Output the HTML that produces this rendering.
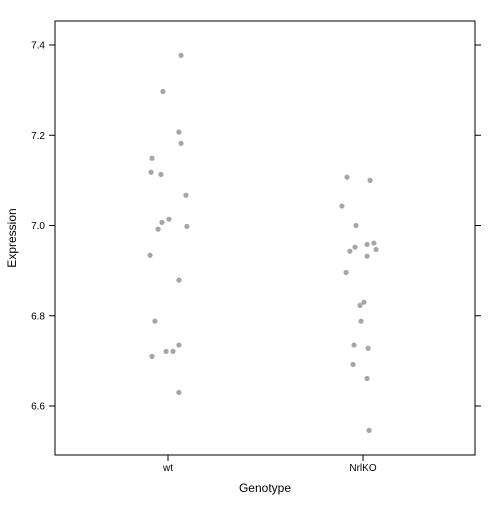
<!DOCTYPE html>
<html><head><meta charset="utf-8"><style>
body{margin:0;background:#fff}
svg text{font-family:"Liberation Sans",sans-serif}
</style></head><body>
<svg id="c" width="504" height="504">
<rect x="0" y="0" width="504" height="504" fill="#fff"/>
</svg>
<script>
const categories=["wt","NrlKO"];
const wtValues=[7.377,7.297,7.207,7.182,7.149,7.118,7.113,7.067,7.014,7.007,6.992,6.998,6.934,6.879,6.788,6.735,6.721,6.721,6.710,6.630];
const wtJitter=[0.067,-0.026,0.056,0.067,-0.082,-0.087,-0.036,0.092,0.005,-0.031,-0.051,0.097,-0.092,0.056,-0.067,0.056,-0.010,0.026,-0.082,0.056];
const koValues=[7.107,7.100,7.043,7.000,6.958,6.961,6.952,6.943,6.947,6.932,6.896,6.830,6.823,6.788,6.735,6.728,6.692,6.661,6.546];
const koJitter=[-0.082,0.036,-0.108,-0.036,0.021,0.056,-0.041,-0.067,0.067,0.021,-0.087,0.005,-0.015,-0.010,-0.046,0.026,-0.051,0.021,0.031];
const yTicks=[6.6,6.8,7.0,7.2,7.4];
const yTickLabels=["6.6","6.8","7.0","7.2","7.4"];
const NS="http://www.w3.org/2000/svg",svg=document.getElementById('c');
const L=55,R=475,T=21,B=455;
const y=v=>45+(7.4-v)*451.25;
const x=i=>168+i*195;
function mk(t,a){const e=document.createElementNS(NS,t);for(const k in a)e.setAttribute(k,a[k]);svg.appendChild(e);return e;}
let f=mk('rect',{x:L,y:T,width:R-L,height:B-T,fill:'none',stroke:'#000','stroke-width':1});


yTicks.forEach((v,i)=>{
 let a=mk('line',{x1:L-6,x2:L,y1:y(v),y2:y(v),stroke:'#000'});
 
 
 let b=mk('line',{x1:R,x2:R+6,y1:y(v),y2:y(v),stroke:'#000'});
 
 
 let t=mk('text',{x:L-10,y:y(v)+3.5,'font-size':10,'text-anchor':'end'});t.textContent=yTickLabels[i];
 
 
});
categories.forEach((c,i)=>{
 let a=mk('line',{x1:x(i),x2:x(i),y1:B,y2:B+6,stroke:'#000'});
 
 
 let t=mk('text',{x:x(i),y:B+16,'font-size':10,'text-anchor':'middle'});t.textContent=c;
 
 
});
function pts(vals,jit,ci){vals.forEach((v,k)=>{
 let p=mk('circle',{cx:x(ci+jit[k]),cy:y(v),r:2.6,fill:'#a6a6a6'});
 
 
});}
pts(wtValues,wtJitter,0);pts(koValues,koJitter,1);
let xt=mk('text',{x:265,y:492,'font-size':12,'text-anchor':'middle'});xt.textContent='Genotype';


let yt=mk('text',{x:16,y:238,'font-size':12,'text-anchor':'middle',transform:'rotate(-90 16 238)'});yt.textContent='Expression';


</script>
</body></html>
